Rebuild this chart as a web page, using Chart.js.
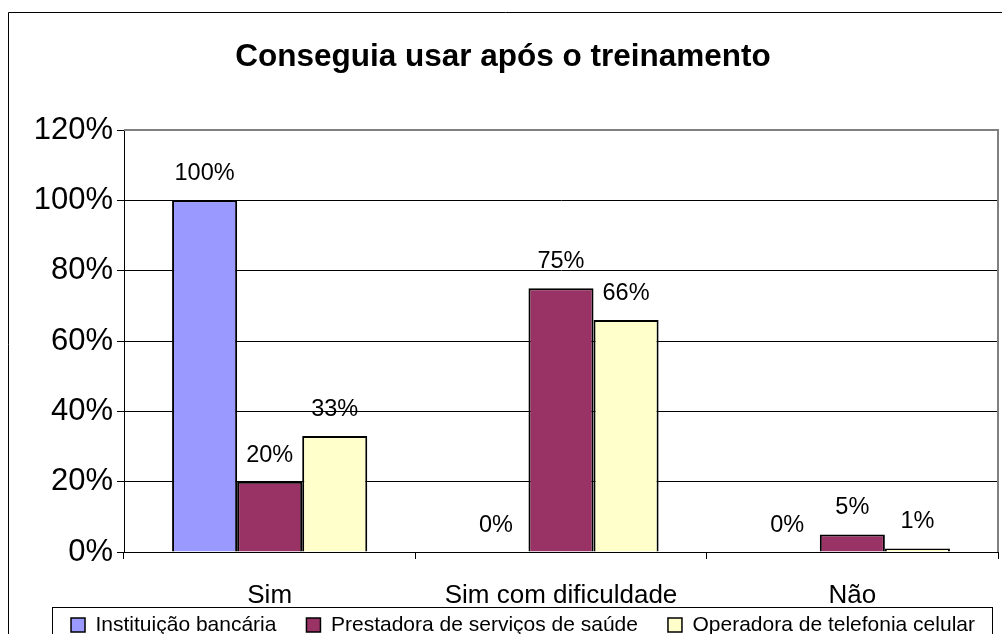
<!DOCTYPE html>
<html>
<head>
<meta charset="utf-8">
<script src="https://cdn.jsdelivr.net/npm/chart.js@4.4.1/dist/chart.umd.min.js"></script>
<style>
  html, body { margin: 0; padding: 0; background: #fff; overflow: hidden; }
  #wrap { width: 1002px; height: 676px; }
</style>
</head>
<body>
<div id="wrap"><canvas id="chart" width="1002" height="676"></canvas></div>
<script>
// データ
var categories = ["Sim", "Sim com dificuldade", "Não"];
var seriesNames = ["Instituição bancária", "Prestadora de serviços de saúde", "Operadora de telefonia celular"];
var bancaria = [100, 0, 0];
var saude = [20, 75, 5];
var celular = [33, 66, 1];
var yTicks = [0, 20, 40, 60, 80, 100, 120];

var colors = ["#9999FF", "#993366", "#FFFFCC"];
var FONT = "'Liberation Sans', Arial, sans-serif";

//枠線・凡例の枠・ラベル
var framePlugin = {
    id: 'frame',
    afterLayout: function(chart) {
        // 凡例の位置を調整
        chart.legend.left += 20;
        chart.legend.right += 20;
        chart.legend.top -= 25.5;
        chart.legend.bottom -= 25.5;
    },
    beforeDatasetsDraw: function(chart) {
        var ctx = chart.ctx, a = chart.chartArea;
        ctx.save();
        ctx.strokeStyle = '#808080';
        ctx.lineWidth = 2;
        ctx.beginPath();
        ctx.moveTo(a.left, a.top);
        ctx.lineTo(a.right, a.top);
        ctx.lineTo(a.right, a.bottom);
        ctx.stroke();
        ctx.restore();
    },
    afterDatasetsDraw: function(chart) {
        var ctx = chart.ctx;
        ctx.save();
        ctx.font = "23.5px " + FONT;
        ctx.fillStyle = '#000';
        ctx.textAlign = 'center';
        ctx.textBaseline = 'alphabetic';
        chart.data.datasets.forEach(function(ds, i) {
            var meta = chart.getDatasetMeta(i);
            meta.data.forEach(function(bar, j) {
                ctx.fillText(ds.data[j] + '%', bar.x, bar.y - 20);
            });
        });
        ctx.restore();
    },
    afterDraw: function(chart) {
        var ctx = chart.ctx;
        ctx.save();
        ctx.strokeStyle = '#000';
        ctx.lineWidth = 1;
        // 外枠
        ctx.beginPath();
        ctx.moveTo(8.5, 700);
        ctx.lineTo(8.5, 12.5);
        ctx.lineTo(1010, 12.5);
        ctx.stroke();
        // 凡例の枠
        ctx.strokeRect(52.5, 607.5, 940, 60);
        ctx.restore();
    }
};

var ctx = document.getElementById('chart').getContext('2d');
var chart = new Chart(ctx, {
    type: 'bar',
    data: {
        labels: categories,
        datasets: [
            { label: seriesNames[0], data: bancaria, backgroundColor: colors[0] },
            { label: seriesNames[1], data: saude, backgroundColor: colors[1] },
            { label: seriesNames[2], data: celular, backgroundColor: colors[2] }
        ].map(function(d) {
            d.borderColor = '#000';
            d.borderWidth = 2;
            d.categoryPercentage = 0.67;
            d.barPercentage = 1.0;
            return d;
        })
    },
    options: {
        responsive: false,
        animation: false,
        devicePixelRatio: 1,
        events: [],
        layout: { padding: { left: 8, right: 4, top: 0, bottom: 5 } },
        plugins: {
            title: {
                display: true,
                text: 'Conseguia usar após o treinamento',
                color: '#000',
                font: { family: FONT, size: 31.5, weight: 'bold', lineHeight: 1.2 },
                padding: { top: 38, bottom: 54.2 }
            },
            legend: {
                position: 'bottom',
                labels: {
                    color: '#000',
                    font: { family: FONT, size: 21 },
                    boxWidth: 14,
                    boxHeight: 14,
                    padding: 30,
                    generateLabels: function(chart) {
                        return chart.data.datasets.map(function(ds, i) {
                            return {
                                text: ds.label,
                                fillStyle: ds.backgroundColor,
                                strokeStyle: '#000',
                                lineWidth: 1.5,
                                datasetIndex: i
                            };
                        });
                    }
                }
            },
            tooltip: { enabled: false }
        },
        scales: {
            x: {
                afterFit: function(scale) { scale.height = 58; },
                grid: { drawOnChartArea: false, drawTicks: true, tickLength: 7, color: '#000', offset: true },
                border: { color: '#000', width: 1 },
                ticks: { color: '#000', font: { family: FONT, size: 26 }, padding: 21 }
            },
            y: {
                min: 0,
                max: 120,
                afterFit: function(scale) { scale.width = 116; },
                afterBuildTicks: function(scale) {
                    scale.ticks = yTicks.map(function(v) { return { value: v }; });
                },
                grid: {
                    color: function(c) { return c.tick && c.tick.value === 120 ? 'rgba(0,0,0,0)' : '#000'; },
                    tickColor: '#000',
                    tickLength: 7,
                    lineWidth: 1
                },
                border: { color: '#000', width: 1 },
                ticks: {
                    color: '#000',
                    font: { family: FONT, size: 31 },
                    padding: 4,
                    callback: function(v) { return v + '%'; }
                }
            }
        }
    },
    plugins: [framePlugin]
});
</script>
</body>
</html>
